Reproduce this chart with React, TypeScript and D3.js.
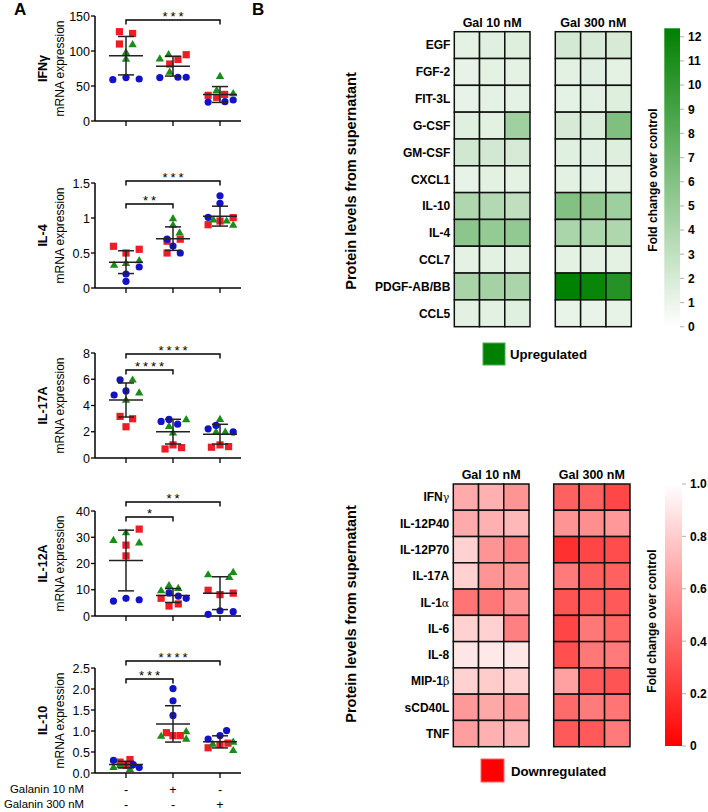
import React from "react";
import * as d3 from "d3";

// ---------------- Panel A data ----------------
const groupKeys = ["ctrl", "gal10", "gal300"];
const galanin10Signs = ["-", "+", "-"];
const galanin300Signs = ["-", "-", "+"];

const geneNames = ["IFNγ", "IL-4", "IL-17A", "IL-12A", "IL-10"];
const yMaxima = [150, 1.5, 8, 40, 2.5];
const yTickValues = [
  [0, 50, 100, 150],
  [0, 0.5, 1, 1.5],
  [0, 2, 4, 6, 8],
  [0, 10, 20, 30, 40],
  [0, 0.5, 1, 1.5, 2, 2.5],
];
const yTickFormats = ["d", "~g", "d", "d", ".1f"];

// values per gene -> per group -> replicate
const redValues = [
  [[127.6, 125, 110], [94.7, 88, 81.4], [36.7, 33.9, 38]],
  [[0.596, 0.5, 0.553], [0.668, 0.697, 0.5], [0.904, 0.957, 1.005]],
  [[3.17, 2.99, 2.38], [0.69, 1.0, 0.79], [0.82, 1.0, 0.87]],
  [[33.1, 27, 22.9], [6.75, 3.8, 4.6], [9.8, 8.15, 8.7]],
  [[0.26, 0.32, 0.18], [0.96, 0.89, 0.89], [0.6, 0.68, 0.71]],
];
const greenValues = [
  [[109.5, 98, 88.6], [89, 95, 70], [64, 44, 39.5]],
  [[0.33, 0.356, 0.394], [0.995, 0.9, 0.79], [0.976, 0.96, 0.9]],
  [[5.96, 4.98, 4.42], [2.94, 2.43, 1.92], [2.96, 1.99, 1.99]],
  [[28.9, 31.8, 27.9], [9.7, 11.7, 10.6], [15.8, 14.8, 16.7]],
  [[0.14, 0.18, 0.09], [0.88, 0.99, 0.81], [0.69, 0.74, 0.54]],
];
const blueValues = [
  [[59, 62, 60], [62, 62.5, 62.5], [27, 27.6, 30]],
  [[0.2, 0.096, 0.3], [0.697, 0.6, 0.5], [1.317, 1.21, 1.01]],
  [[5.96, 4.8, 5.11], [2.79, 2.94, 2.58], [2.22, 2.48, 1.99]],
  [[5.7, 6.75, 6.2], [8.8, 7.6, 6.75], [0.64, 2.0, 1.66]],
  [[0.3, 0.2, 0.13], [2.01, 1.72, 1.37], [0.81, 0.89, 1.01]],
];

// significance comparisons (from control to target group)
const sigLabels = [["***"], ["***", "**"], ["****", "****"], ["**", "*"], ["****", "***"]];
const sigTargets = [[2], [2, 1], [2, 1], [2, 1], [2, 1]];

// ---------------- Panel B data ----------------
const upProteins = ["EGF", "FGF-2", "FIT-3L", "G-CSF", "GM-CSF", "CXCL1", "IL-10", "IL-4", "CCL7", "PDGF-AB/BB", "CCL5"];
const upGal10 = [
  [1.3, 1.5, 1.6], [1.2, 1.3, 1.3], [1.2, 1.3, 1.3], [1.5, 1.4, 4.6], [2.3, 2.2, 2.0], [1.2, 1.4, 1.3],
  [3.9, 3.7, 3.1], [5.5, 5.2, 5.3], [1.3, 1.4, 1.4], [4.2, 4.4, 4.1], [1.4, 1.4, 1.5],
];
const upGal300 = [
  [2.1, 1.9, 2.0], [1.4, 1.5, 1.3], [1.3, 1.4, 1.6], [2.0, 1.8, 6.2], [1.5, 1.5, 1.6], [1.4, 1.4, 1.4],
  [6.0, 5.4, 4.7], [4.1, 4.0, 3.9], [1.3, 1.4, 1.3], [12.3, 11.9, 10.6], [1.1, 1.1, 1.2],
];
const upTicks = [0, 1, 2, 3, 4, 5, 6, 7, 8, 9, 10, 11, 12];
const upMax = 12.35;

const downProteins = ["IFNγ", "IL-12P40", "IL-12P70", "IL-17A", "IL-1α", "IL-6", "IL-8", "MIP-1β", "sCD40L", "TNF"];
const downGal10 = [
  [0.67, 0.69, 0.58], [0.67, 0.69, 0.72], [0.82, 0.58, 0.5], [0.82, 0.58, 0.58], [0.46, 0.47, 0.58],
  [0.82, 0.82, 0.5], [0.9, 0.91, 0.9], [0.82, 0.8, 0.82], [0.6, 0.66, 0.6], [0.62, 0.69, 0.71],
];
const downGal300 = [
  [0.38, 0.38, 0.28], [0.58, 0.56, 0.6], [0.19, 0.27, 0.3], [0.48, 0.37, 0.38], [0.33, 0.35, 0.35],
  [0.27, 0.47, 0.4], [0.31, 0.47, 0.48], [0.63, 0.35, 0.33], [0.42, 0.48, 0.46], [0.35, 0.35, 0.48],
];
const downTicks = [0, 0.2, 0.4, 0.6, 0.8, 1.0];
const downTickLabels = ["0", "0.2", "0.4", "0.6", "0.8", "1.0"];
const replicates = [0, 1, 2];
const doseHeadings = ["Gal 10 nM", "Gal 300 nM"];

// ---------------- Layout (positions & styles) ----------------
const W = 708;
const H = 812;
const FONT = "'Liberation Sans', Arial, Helvetica, sans-serif";
const plotTops = [16, 183, 353, 511, 668];
const plotH = 105;
const axisX = 95;
const axisEndX = 241;
const sigLevelsPx = [[20], [181, 204], [354, 370], [502, 517], [661, 679]];
const jitterUnit = 6.6;
const redSlots = [
  [[-1, 1, -1], [2, 0.75, -0.5], [-1.8, -0.5, 0.7]],
  [[-1.9, 0, 2], [-0.9, 1.1, -0.9], [-1.8, 0, 2]],
  [[-0.9, 1, 0], [-1.2, 0, 1.3], [-1.3, 0, 1.3]],
  [[2, 0, 0], [-1.8, -0.6, 0.8], [-1.8, 0, 2]],
  [[-0.9, 0.6, 0], [-1, 0, 1.1], [-1.8, 0, 1.2]],
];
const greenSlots = [
  [[1, 0, 0], [-2, -0.67, -0.5], [0, -0.5, 2]],
  [[-1.8, 0, 2], [0, 0, 1], [-1, 1, 2]],
  [[1, 2, 0], [2, -0.6, 0], [0, -0.6, 0.8]],
  [[-1.9, 0, 2], [-1.8, -0.6, 0.8], [-1.8, 1.4, 2]],
  [[-1.9, -0.9, 0.6], [-1.8, 2, 2], [-1.1, 2, 2]],
];
const blueSlots = [
  [[-2, 0, 2], [-2, 0.75, 2], [-1.8, 0.75, 2]],
  [[0, 0, 2], [-0.9, 0, 1.1], [0, 0, -1.8]],
  [[-0.9, -1.8, 0], [-1.8, -0.6, 0.7], [-1.8, -0.6, 2]],
  [[-1.9, 0, 2], [-0.6, 0.8, 2], [-1.8, 0, 2]],
  [[-1.9, 1.1, 2], [0, 0, 0], [-1.8, 0, 1]],
];
const RED = "#ee1c25";
const GREEN = "#1a8c1a";
const BLUE = "#1212c8";

const xScale = d3.scalePoint<string>().domain(groupKeys).range([126, 220]);

function Marker({ shape, x, y }: { shape: string; x: number; y: number }) {
  if (shape === "circle") return <circle cx={x} cy={y} r={3.6} fill={BLUE} />;
  if (shape === "square") return <rect x={x - 3.6} y={y - 3.6} width={7.2} height={7.2} fill={RED} />;
  const p = `M${x},${y - 4.4} L${x + 4.2},${y + 2.8} L${x - 4.2},${y + 2.8} Z`;
  return <path d={p} fill={GREEN} />;
}

function ScatterPlot({ gi }: { gi: number }) {
  const top = plotTops[gi];
  const y = d3.scaleLinear().domain([0, yMaxima[gi]]).range([top + plotH, top]);
  const fmt = d3.format(yTickFormats[gi]);
  const cy = top + plotH / 2;
  const series = [
    { shape: "square", vals: redValues[gi], slots: redSlots[gi] },
    { shape: "triangle", vals: greenValues[gi], slots: greenSlots[gi] },
    { shape: "circle", vals: blueValues[gi], slots: blueSlots[gi] },
  ];
  return (
    <g>
      <text transform={`translate(47,${cy}) rotate(-90)`} textAnchor="middle" fontSize={12.5} fontWeight="bold" fontFamily={FONT}>
        {geneNames[gi]}
      </text>
      <text transform={`translate(64,${cy}) rotate(-90)`} textAnchor="middle" fontSize={12} fontFamily={FONT}>
        mRNA expression
      </text>
      {/* y axis */}
      <line x1={axisX} x2={axisX} y1={y(yMaxima[gi])} y2={y(0)} stroke="#000" strokeWidth={1.5} />
      {yTickValues[gi].map((t) => (
        <g key={t}>
          <line x1={axisX - 4} x2={axisX} y1={y(t)} y2={y(t)} stroke="#000" strokeWidth={1.3} />
          <text x={axisX - 5} y={y(t)} dy="0.36em" textAnchor="end" fontSize={12.5} fontFamily={FONT}>
            {fmt(t)}
          </text>
        </g>
      ))}
      {/* x axis */}
      <line x1={axisX} x2={axisEndX} y1={y(0)} y2={y(0)} stroke="#000" strokeWidth={1.5} />
      {groupKeys.map((g) => (
        <line key={g} x1={xScale(g)} x2={xScale(g)} y1={y(0)} y2={y(0) + 5} stroke="#000" strokeWidth={1.3} />
      ))}
      {/* points */}
      {series.map((s) =>
        groupKeys.map((g, k) =>
          s.vals[k].map((v, r) => (
            <Marker key={`${s.shape}-${g}-${r}`} shape={s.shape} x={(xScale(g) as number) + s.slots[k][r] * jitterUnit} y={y(v)} />
          ))
        )
      )}
      {/* mean ± SD */}
      {groupKeys.map((g, k) => {
        const all = [...redValues[gi][k], ...greenValues[gi][k], ...blueValues[gi][k]];
        const m = d3.mean(all) as number;
        const sd = d3.deviation(all) as number;
        const x = xScale(g) as number;
        return (
          <g key={g} stroke="#222" strokeWidth={1.5}>
            <line x1={x} x2={x} y1={y(m + sd)} y2={y(Math.max(m - sd, 0))} />
            <line x1={x - 8} x2={x + 8} y1={y(m + sd)} y2={y(m + sd)} />
            <line x1={x - 8} x2={x + 8} y1={y(Math.max(m - sd, 0))} y2={y(Math.max(m - sd, 0))} />
            <line x1={x - 17} x2={x + 17} y1={y(m)} y2={y(m)} />
          </g>
        );
      })}
      {/* significance brackets */}
      {sigLabels[gi].map((lab, j) => {
        const yy = sigLevelsPx[gi][j];
        const x1 = xScale(groupKeys[0]) as number;
        const x2 = xScale(groupKeys[sigTargets[gi][j]]) as number;
        return (
          <g key={j}>
            <path d={`M${x1},${yy + 4.5} V${yy} H${x2} V${yy + 4.5}`} fill="none" stroke="#000" strokeWidth={1.4} />
            <text x={(x1 + x2) / 2 + 1.5} y={yy + 1} textAnchor="middle" fontSize={13} letterSpacing={3} fontFamily={FONT}>
              {lab}
            </text>
          </g>
        );
      })}
    </g>
  );
}

function GreekLabel({ label, x, y, size }: { label: string; x: number; y: number; size: number }) {
  const parts = label.split(/([α-ω])/).filter((p) => p.length > 0);
  return (
    <text x={x} y={y} dy="0.36em" textAnchor="end" fontSize={size} fontWeight="bold" fontFamily={FONT}>
      {parts.map((p, i) =>
        /[α-ω]/.test(p) ? (
          <tspan key={i} fontWeight="normal" fontFamily="'DejaVu Serif', serif" fontSize={size - 1}>
            {p}
          </tspan>
        ) : (
          <tspan key={i}>{p}</tspan>
        )
      )}
    </text>
  );
}

type HeatProps = {
  proteins: string[];
  low: number[][];
  high: number[][];
  rowRange: [number, number];
  colRanges: [number, number][];
  color: (v: number) => string;
  headingY: number;
};

function Heatmap({ proteins, low, high, rowRange, colRanges, color, headingY }: HeatProps) {
  const rows = d3.scaleBand<string>().domain(proteins).range(rowRange);
  const mats = [low, high];
  return (
    <g>
      {colRanges.map((cr, d) => {
        const cols = d3.scaleBand<number>().domain(replicates).range(cr);
        return (
          <g key={d}>
            <text x={(cr[0] + cr[1]) / 2} y={headingY} textAnchor="middle" fontSize={12.5} fontWeight="bold" fontFamily={FONT}>
              {doseHeadings[d]}
            </text>
            {proteins.map((p, i) =>
              replicates.map((r) => (
                <rect
                  key={`${p}-${r}`}
                  x={cols(r)}
                  y={rows(p)}
                  width={cols.bandwidth()}
                  height={rows.bandwidth()}
                  fill={color(mats[d][i][r])}
                  stroke="#111"
                  strokeWidth={1.5}
                />
              ))
            )}
          </g>
        );
      })}
      {proteins.map((p) => (
        <GreekLabel key={p} label={p} x={colRanges[0][0] - 4} y={(rows(p) as number) + rows.bandwidth() / 2} size={12} />
      ))}
    </g>
  );
}

export default function App() {
  const upColor = d3.scaleLinear<string>().domain([0, upMax]).range(["#ffffff", "#008000"]).interpolate(d3.interpolateRgb);
  const downColor = d3.scaleLinear<string>().domain([0, 1]).range(["#ff0000", "#ffffff"]).interpolate(d3.interpolateRgb);
  const upBar = d3.scaleLinear().domain([0, upMax]).range([326.7, 28.3]);
  const downBar = d3.scaleLinear().domain([0, 1]).range([746, 484]);
  const upStops = d3.range(0, 1.0001, 0.1);
  return (
    <svg width={W} height={H} style={{ position: "absolute", left: 0, top: 0, background: "#fff" }}>
      <defs>
        <linearGradient id="gUp" x1="0" y1="1" x2="0" y2="0">
          {upStops.map((t) => (
            <stop key={t} offset={t} stopColor={upColor(t * upMax)} />
          ))}
        </linearGradient>
        <linearGradient id="gDown" x1="0" y1="1" x2="0" y2="0">
          {upStops.map((t) => (
            <stop key={t} offset={t} stopColor={downColor(t)} />
          ))}
        </linearGradient>
      </defs>
      <rect width={W} height={H} fill="#fff" />
      <text x={14} y={15} fontSize={17} fontWeight="bold" fontFamily={FONT}>A</text>
      <text x={252} y={15} fontSize={17} fontWeight="bold" fontFamily={FONT}>B</text>

      {geneNames.map((_, gi) => (
        <ScatterPlot key={gi} gi={gi} />
      ))}

      {/* Galanin rows */}
      {[galanin10Signs, galanin300Signs].map((signs, i) => (
        <g key={i} fontFamily={FONT} fontSize={11.5}>
          <text x={84} y={i === 0 ? 789 : 804} dy="0.36em" textAnchor="end" textLength={i === 0 ? 74 : 80} lengthAdjust="spacingAndGlyphs">
            {i === 0 ? "Galanin 10 nM" : "Galanin 300 nM"}
          </text>
          {groupKeys.map((g, k) => (
            <text key={g} x={xScale(g)} y={i === 0 ? 789 : 804} dy="0.36em" textAnchor="middle" fontSize={12.5}>
              {signs[k]}
            </text>
          ))}
        </g>
      ))}

      {/* ---------- Panel B top ---------- */}
      <text transform="translate(356,181) rotate(-90)" textAnchor="middle" fontSize={14.5} fontWeight="bold" fontFamily={FONT}>
        Protein levels from supernatant
      </text>
      <Heatmap
        proteins={upProteins}
        low={upGal10}
        high={upGal300}
        rowRange={[31.7, 326.7]}
        colRanges={[[454.3, 530], [555.3, 631.3]]}
        color={upColor}
        headingY={27}
      />
      <rect x={664.3} y={upBar(upMax)} width={15.7} height={upBar(0) - upBar(upMax)} fill="url(#gUp)" />
      {upTicks.map((t) => (
        <g key={t}>
          <line x1={680} x2={684} y1={upBar(t)} y2={upBar(t)} stroke="#bbb" strokeWidth={1.2} />
          <text x={688} y={upBar(t)} dy="0.36em" fontSize={12} fontWeight="bold" fontFamily={FONT}>{t}</text>
        </g>
      ))}
      <text transform="translate(657,180) rotate(-90)" textAnchor="middle" fontSize={12} fontWeight="bold" fontFamily={FONT}>
        Fold change over control
      </text>
      <rect x={483} y={343} width={22} height={22} fill="#008000" stroke="#4caf4c" strokeWidth={1} />
      <text x={510} y={354} dy="0.36em" fontSize={13.2} fontWeight="bold" fontFamily={FONT}>Upregulated</text>

      {/* ---------- Panel B bottom ---------- */}
      <text transform="translate(356,614) rotate(-90)" textAnchor="middle" fontSize={14.5} fontWeight="bold" fontFamily={FONT}>
        Protein levels from supernatant
      </text>
      <Heatmap
        proteins={downProteins}
        low={downGal10}
        high={downGal300}
        rowRange={[484, 746.7]}
        colRanges={[[453.3, 529], [553.7, 630]]}
        color={downColor}
        headingY={479}
      />
      <rect x={665} y={downBar(1)} width={17} height={downBar(0) - downBar(1)} fill="url(#gDown)" />
      {downTicks.map((t, i) => (
        <g key={t}>
          <line x1={682} x2={686} y1={downBar(t)} y2={downBar(t)} stroke="#bbb" strokeWidth={1.2} />
          <text x={690} y={downBar(t)} dy="0.36em" fontSize={12} fontWeight="bold" fontFamily={FONT}>{downTickLabels[i]}</text>
        </g>
      ))}
      <text transform="translate(656,621) rotate(-90)" textAnchor="middle" fontSize={12} fontWeight="bold" fontFamily={FONT}>
        Fold change over control
      </text>
      <rect x={481} y={759} width={23} height={23} fill="#ff0000" stroke="#ff6666" strokeWidth={1} />
      <text x={511} y={771} dy="0.36em" fontSize={13.2} fontWeight="bold" fontFamily={FONT}>Downregulated</text>
    </svg>
  );
}
